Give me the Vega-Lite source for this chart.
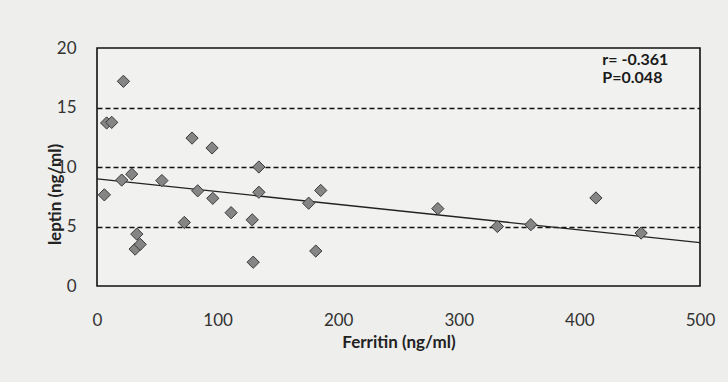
{
  "$schema": "https://vega.github.io/schema/vega-lite/v6.json",
  "autosize": {"type": "none"},
  "padding": {"left": 97, "top": 48, "right": 28, "bottom": 96},
  "width": 603,
  "height": 238,
  "background": "#eeeeec",
  "config": {
    "view": {"stroke": "#111111", "strokeWidth": 1.6, "fill": "#f1f1ef"},
    "font": "Lato"
  },
  "datasets": {
    "points": [
      {"ferritin": 21.9, "leptin": 17.2},
      {"ferritin": 8.0, "leptin": 13.7},
      {"ferritin": 12.2, "leptin": 13.75},
      {"ferritin": 6.1, "leptin": 7.66},
      {"ferritin": 20.5, "leptin": 8.9},
      {"ferritin": 28.8, "leptin": 9.4},
      {"ferritin": 33.0, "leptin": 4.36},
      {"ferritin": 31.6, "leptin": 3.1},
      {"ferritin": 35.8, "leptin": 3.5},
      {"ferritin": 53.8, "leptin": 8.86},
      {"ferritin": 72.4, "leptin": 5.34},
      {"ferritin": 78.8, "leptin": 12.43},
      {"ferritin": 83.5, "leptin": 8.0},
      {"ferritin": 95.4, "leptin": 11.6},
      {"ferritin": 96.0, "leptin": 7.37},
      {"ferritin": 111.2, "leptin": 6.16},
      {"ferritin": 128.7, "leptin": 5.56},
      {"ferritin": 129.5, "leptin": 2.0},
      {"ferritin": 134.2, "leptin": 10.0},
      {"ferritin": 134.2, "leptin": 7.88},
      {"ferritin": 175.5, "leptin": 6.96},
      {"ferritin": 185.5, "leptin": 8.03},
      {"ferritin": 181.4, "leptin": 2.94},
      {"ferritin": 282.6, "leptin": 6.5},
      {"ferritin": 332.0, "leptin": 5.0},
      {"ferritin": 359.7, "leptin": 5.15},
      {"ferritin": 413.7, "leptin": 7.4},
      {"ferritin": 451.2, "leptin": 4.45}
    ],
    "fit": [
      {"ferritin": 0, "leptin": 9.0},
      {"ferritin": 500, "leptin": 3.65}
    ],
    "note": [
      {"ferritin": 419, "leptin": 18.95, "label": "r= -0.361"},
      {"ferritin": 419, "leptin": 17.45, "label": "P=0.048"}
    ]
  },
  "layer": [
    {
      "data": {"name": "fit"},
      "mark": {"type": "line", "color": "#222222", "strokeWidth": 1.3, "clip": true},
      "encoding": {
        "x": {
          "field": "ferritin", "type": "quantitative",
          "scale": {"domain": [0, 500], "nice": false},
          "axis": {
            "values": [0, 100, 200, 300, 400, 500],
            "title": "Ferritin (ng/ml)",
            "grid": false,
            "domain": false,
            "ticks": false,
            "labelPadding": 26,
            "labelFontSize": 17,
            "labelColor": "#333333",
            "labelFlush": false,
            "titleFontSize": 17,
            "titleFontWeight": "bold",
            "titleColor": "#222222",
            "titleY": 56,
            "titleBaseline": "middle"
          }
        },
        "y": {
          "field": "leptin", "type": "quantitative",
          "scale": {"domain": [0, 20], "nice": false},
          "axis": {
            "values": [0, 5, 10, 15, 20],
            "title": "leptin (ng/ml)",
            "domain": false,
            "ticks": false,
            "grid": true,
            "gridDash": [5, 3],
            "gridWidth": 1.6,
            "gridColor": {"condition": {"test": "datum.value == 0 || datum.value == 20", "value": "transparent"}, "value": "#111111"},
            "labelPadding": 21,
            "labelFontSize": 17,
            "labelColor": "#333333",
            "labelFlush": false,
            "titleFontSize": 17,
            "titleFontWeight": "bold",
            "titleColor": "#222222",
            "titleAngle": 270,
            "titleX": -42,
            "titleY": 146,
            "titleAlign": "center",
            "titleBaseline": "middle"
          }
        }
      }
    },
    {
      "data": {"name": "points"},
      "mark": {"type": "point", "shape": "diamond", "filled": true, "size": 150, "fill": "#858585", "stroke": "#3a3a3a", "strokeWidth": 1, "opacity": 1},
      "encoding": {
        "x": {"field": "ferritin", "type": "quantitative"},
        "y": {"field": "leptin", "type": "quantitative"}
      }
    },
    {
      "data": {"name": "note"},
      "mark": {"type": "text", "align": "left", "baseline": "middle", "fontSize": 16, "fontWeight": "bold", "color": "#1a1a1a"},
      "encoding": {
        "x": {"field": "ferritin", "type": "quantitative"},
        "y": {"field": "leptin", "type": "quantitative"},
        "text": {"field": "label"}
      }
    }
  ]
}
